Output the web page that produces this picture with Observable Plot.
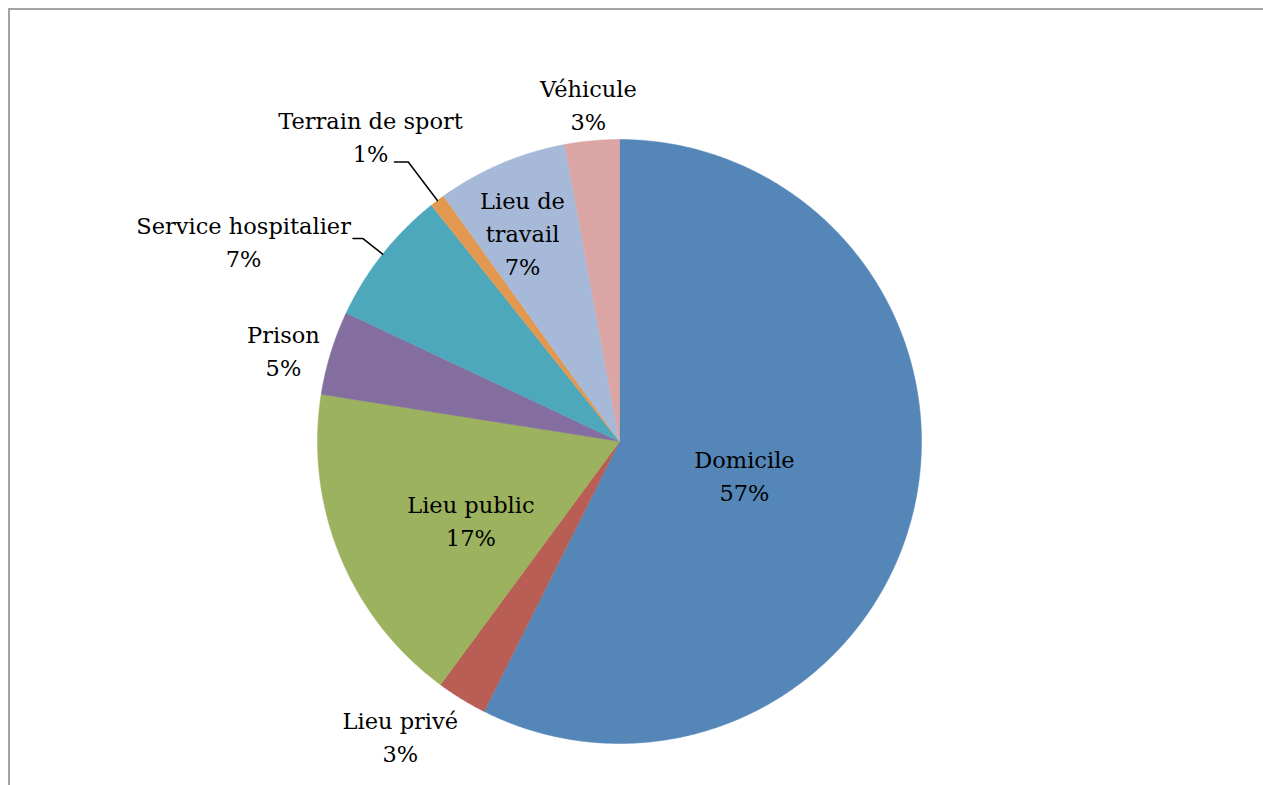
<!DOCTYPE html>
<html><head><meta charset="utf-8">
<script src="https://cdn.jsdelivr.net/npm/d3@7"></script>
<script src="https://cdn.jsdelivr.net/npm/@observablehq/plot@0.6"></script>
<style>
html,body{margin:0;padding:0;background:#fff;overflow:hidden;}
#frame{position:absolute;left:8px;top:8px;width:1400px;height:1000px;border-left:2px solid #a3a3a3;border-top:2px solid #a3a3a3;}
#chart{position:absolute;left:0;top:0;}
</style></head><body><div id="frame"></div><div id="chart"></div>
<script>
// ---- data ----
const categories = ["Domicile", "Lieu privé", "Lieu public", "Prison", "Service hospitalier", "Terrain de sport", "Lieu de travail", "Véhicule"];
const values = [57.4, 2.7, 17.4, 4.5, 7.3, 0.8, 7.0, 2.9];
const colors = ["#5586B8", "#B95E54", "#9CB25E", "#846EA0", "#4DA8BC", "#E2994F", "#A6B9D9", "#DBA5A4"];

// ---- layout (label placement in polar coords: angle in degrees clockwise from top, radius in pie radii) ----
const labelPlacement = {
  "Domicile": [105.8, 0.43],
  "Lieu privé": [216.5, 1.22],
  "Lieu public": [241.5, 0.56],
  "Prison": [285, 1.152],
  "Service hospitalier": [297.8, 1.407],
  "Terrain de sport": [320.6, 1.299],
  "Lieu de travail": [334.9, 0.757],
  "Véhicule": [354.7, 1.117]
};
const labelWrap = {"Lieu de travail": "Lieu de\ntravail"};
const leaders = {"Service hospitalier": [1.083, -0.033], "Terrain de sport": [1.16, -0.046]};

const W = 1263, H = 785, CX = 619, CY = 441, R = 302;

const total = d3.sum(values);
let acc = 0;
const slices = categories.map((name, i) => {
  const a0 = acc / total * 2 * Math.PI; acc += values[i];
  const a1 = acc / total * 2 * Math.PI;
  return {name, a0, a1, pct: values[i] / total * 100};
});

const pts = slices.flatMap(s => {
  const n = Math.max(2, Math.ceil((s.a1 - s.a0) / (Math.PI / 360)));
  const arr = [{name: s.name, x: 0, y: 0}];
  for (let k = 0; k <= n; k++) {
    const a = s.a0 + (s.a1 - s.a0) * k / n;
    arr.push({name: s.name, x: Math.sin(a), y: Math.cos(a)});
  }
  arr.push({name: s.name, x: 0, y: 0});
  return arr;
});

const labels = slices.map(s => {
  const [deg, r] = labelPlacement[s.name];
  const a = deg * Math.PI / 180;
  return {name: s.name, x: r * Math.sin(a), y: r * Math.cos(a),
    text: (labelWrap[s.name] || s.name) + "\n" + Math.round(s.pct) + "%"};
});

const leaderPts = slices.filter(s => leaders[s.name]).flatMap(s => {
  const m = (s.a0 + s.a1) / 2;
  const [k, shift] = leaders[s.name];
  const ex = k * Math.sin(m), ey = k * Math.cos(m);
  return [
    {name: s.name, x: Math.sin(m), y: Math.cos(m)},
    {name: s.name, x: ex, y: ey},
    {name: s.name, x: ex + shift, y: ey}
  ];
});

const chart = Plot.plot({
  width: W, height: H, margin: 0,
  style: {background: "transparent"},
  x: {domain: [-CX / R, (W - CX) / R], axis: null},
  y: {domain: [-(H - CY) / R, CY / R], axis: null},
  color: {domain: categories, range: colors},
  marks: [
    Plot.line(pts, {x: "x", y: "y", z: "name", fill: "name", stroke: "name", strokeWidth: 0.5, curve: "linear"}),
    Plot.line(leaderPts, {x: "x", y: "y", z: "name", stroke: "#000", strokeWidth: 1.5}),
    Plot.text(labels, {x: "x", y: "y", dy: -3, text: "text", fontSize: 22.5, fontFamily: "DejaVu Serif", lineAnchor: "middle", lineHeight: 1.47, fill: "#000"})
  ]
});
document.getElementById("chart").appendChild(chart);
</script>
</body></html>
